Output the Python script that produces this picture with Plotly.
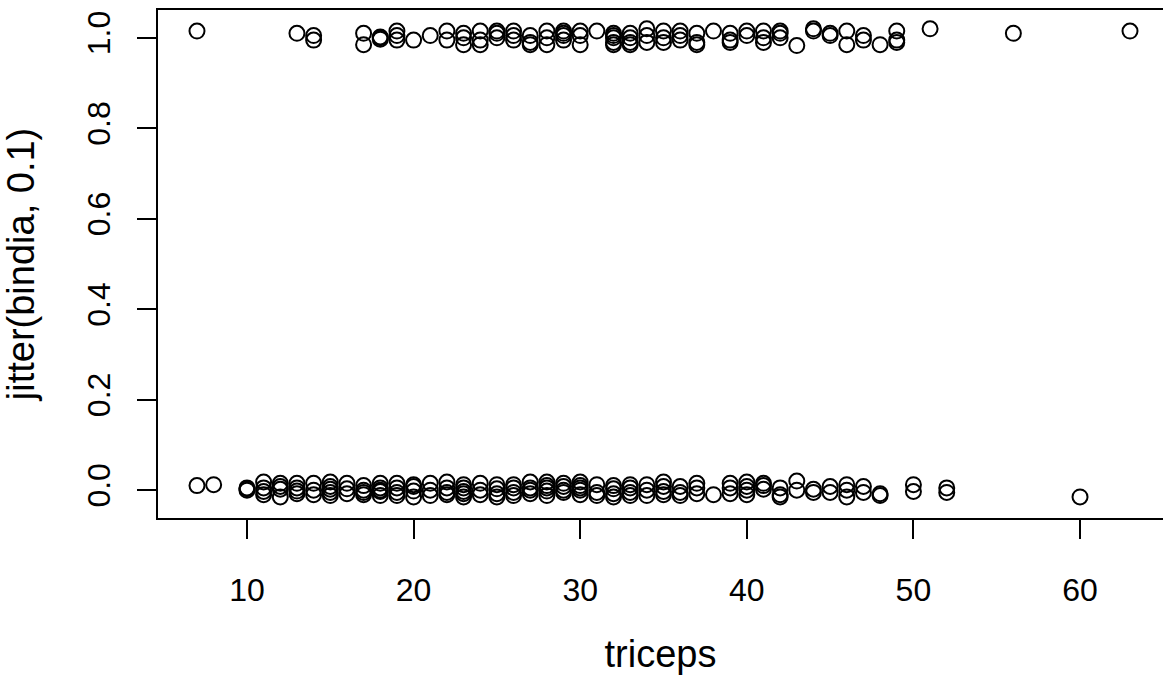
import plotly.graph_objects as go

# Points with bindia = 1 (jittered around 1.0)
triceps_top = [7, 13, 14, 14, 17, 17, 18, 18, 18, 19, 19, 19, 20, 21, 22, 22,
               23, 23, 23, 24, 24, 24, 25, 25, 25, 26, 26, 26, 27, 27, 27,
               28, 28, 28, 29, 29, 29, 29, 30, 30, 30, 31, 32, 32, 32, 32, 32,
               33, 33, 33, 33, 34, 34, 34, 35, 35, 35, 36, 36, 36, 37, 37, 37,
               38, 39, 39, 39, 40, 40, 41, 41, 41, 42, 42, 42, 43, 44, 44,
               45, 45, 46, 46, 47, 47, 48, 49, 49, 49, 51, 56, 63]
jit_top = [1.015, 1.010, 1.005, 0.995, 1.010, 0.985, 1.000, 0.997, 1.002, 1.015, 1.005, 0.995,
           0.995, 1.005, 1.015, 0.995, 1.010, 1.000, 0.985, 1.015, 0.995, 0.985,
           1.015, 1.000, 1.010, 1.015, 1.005, 0.995, 1.005, 0.985, 0.990,
           1.015, 1.000, 0.985, 1.015, 1.010, 0.995, 1.005, 1.015, 1.005, 0.985,
           1.015, 1.010, 1.000, 0.990, 0.985, 1.005, 1.010, 1.000, 0.990, 0.985,
           1.020, 1.005, 0.990, 1.015, 1.000, 0.990, 1.015, 1.005, 0.995,
           1.010, 0.990, 0.985, 1.015, 1.010, 0.995, 0.990, 1.015, 1.005,
           1.015, 1.000, 0.990, 1.015, 1.010, 1.000, 0.983, 1.020, 1.015,
           1.010, 1.005, 1.015, 0.985, 1.005, 0.995, 0.985, 1.015, 0.995, 0.990,
           1.020, 1.010, 1.015]

# Points with bindia = 0 (jittered around 0.0)
triceps_bot = [7, 8, 10, 10, 10, 11, 11, 11, 11, 12, 12, 12, 12, 13, 13, 13, 13,
               14, 14, 14, 15, 15, 15, 15, 15, 16, 16, 16, 17, 17, 17, 17,
               18, 18, 18, 18, 18, 19, 19, 19, 19, 20, 20, 20, 20, 21, 21, 21,
               22, 22, 22, 22, 23, 23, 23, 23, 23, 24, 24, 24, 25, 25, 25, 25,
               26, 26, 26, 26, 27, 27, 27, 27, 28, 28, 28, 28, 28, 29, 29, 29, 29,
               30, 30, 30, 30, 30, 31, 31, 31, 32, 32, 32, 32, 33, 33, 33, 33,
               34, 34, 34, 35, 35, 35, 35, 36, 36, 36, 37, 37, 37, 38,
               39, 39, 39, 40, 40, 40, 40, 41, 41, 41, 42, 42, 42, 43, 43,
               44, 44, 45, 45, 46, 46, 46, 47, 47, 48, 48, 50, 50, 52, 52, 60]
jit_bot = [0.010, 0.012, 0.005, 0.000, 0.003, 0.018, 0.005, -0.010, -0.003, 0.015, 0.002, -0.015, 0.008,
           0.015, 0.005, -0.008, -0.002, 0.015, 0.000, -0.010, 0.018, 0.008, -0.005, -0.012, 0.002,
           0.015, 0.003, -0.008, 0.010, 0.000, -0.010, -0.005, 0.015, 0.005, -0.003, -0.012, 0.000,
           0.015, 0.005, -0.005, -0.012, 0.012, 0.008, -0.002, -0.015, 0.015, 0.000, -0.012,
           0.018, 0.005, -0.005, -0.010, 0.012, 0.005, -0.008, -0.015, -0.003, 0.015, 0.000, -0.010,
           0.012, 0.003, -0.008, -0.015, 0.012, 0.005, -0.005, -0.012, 0.018, 0.005, -0.008, 0.000,
           0.018, 0.010, -0.002, -0.012, 0.005, 0.015, 0.008, -0.005, 0.000, 0.018, 0.010, 0.000, -0.010, 0.005,
           0.012, -0.005, -0.012, 0.010, 0.003, -0.008, -0.015, 0.012, 0.005, -0.005, -0.012,
           0.012, 0.000, -0.012, 0.018, 0.008, -0.003, -0.010, 0.008, -0.005, -0.012, 0.015, 0.005, -0.008, -0.010,
           0.015, 0.005, -0.008, 0.018, 0.008, 0.000, -0.010, 0.015, 0.010, 0.002, 0.005, -0.010, -0.015,
           0.020, 0.000, 0.002, -0.005, 0.008, -0.005, 0.012, 0.000, -0.015, 0.008, -0.005,
           -0.008, -0.012, 0.012, -0.003, 0.005, -0.005, -0.015]

triceps = triceps_top + triceps_bot
jitter_bindia = jit_top + jit_bot

x_ticks = [10, 20, 30, 40, 50, 60]
y_ticks = [0.0, 0.2, 0.4, 0.6, 0.8, 1.0]

fig = go.Figure(go.Scatter(
    x=triceps, y=jitter_bindia, mode="markers",
    marker=dict(symbol="circle-open", size=15, color="black", line=dict(width=2, color="black")),
    showlegend=False, hoverinfo="x+y"))

font = dict(family="Liberation Sans, Arial, sans-serif", size=32, color="black")
fig.update_layout(
    width=1163, height=675,
    margin=dict(l=158, r=0, t=10, b=157),
    paper_bgcolor="white", plot_bgcolor="white",
    font=font,
    xaxis=dict(range=[4.66, 64.98], tickvals=x_ticks, ticks="outside", ticklen=19, tickwidth=2,
               tickcolor="black", showgrid=False, zeroline=False, showline=True, linecolor="black",
               linewidth=2, mirror=True, title=dict(text="triceps", standoff=44), ticklabelstandoff=24,
               automargin=False),
    yaxis=dict(range=[-0.0616, 1.0616], tickvals=y_ticks, tickformat=".1f", ticks="outside", ticklen=19,
               tickwidth=2, tickcolor="black", tickangle=-90, showgrid=False, zeroline=False,
               showline=True, linecolor="black", linewidth=2, mirror=True,
               title=dict(text="jitter(bindia, 0.1)", standoff=42), ticklabelstandoff=14,
               automargin=False),
)
fig.write_html("out.html")
